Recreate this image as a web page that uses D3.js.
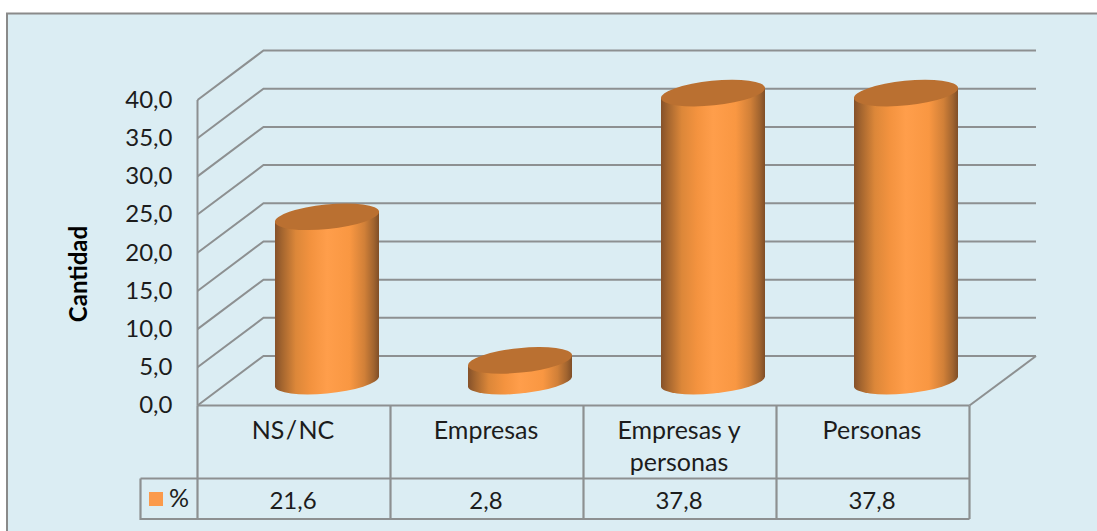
<!DOCTYPE html>
<html><head><meta charset="utf-8">
<script src="https://cdn.jsdelivr.net/npm/d3@7"></script>
<style>html,body{margin:0;padding:0;background:#fff;overflow:hidden}svg{display:block}text{font-family:Lato,"Open Sans",sans-serif;fill:#1c1c1c}</style>
</head><body><svg id="c" width="1097" height="531"></svg>
<script>
const categories = [["NS / NC"],["Empresas"],["Empresas y","personas"],["Personas"]];
const values = [21.6,2.8,37.8,37.8];
const valueLabels = ["21,6","2,8","37,8","37,8"];
const yTicks = [0,5,10,15,20,25,30,35,40];
const seriesName = "%";
const axisTitle = "Cantidad";

const svg = d3.select("#c");
const grid = "#8d9091", bg = "#dbedf3";
const x0 = 197.5, x1 = 969.5, yBase = 405.5, yTop = 100, dx = 66, dy = 49.5;
const x = d3.scaleBand().domain(d3.range(categories.length)).range([x0,x1]);
const y = d3.scaleLinear().domain([0,40]).range([yBase,yTop]);

svg.append("rect").attr("x",7).attr("y",13.5).attr("width",1200).attr("height",700)
  .attr("fill",bg).attr("stroke","#8a8a8a").attr("stroke-width",2);

const defs = svg.append("defs");
const g = defs.append("linearGradient").attr("id","cyl").attr("x1","0").attr("x2","1").attr("y1","0").attr("y2","0");
[[0,"#85512a"],[0.07,"#a5662f"],[0.2,"#dc8739"],[0.35,"#f4933f"],[0.5,"#ff9e4b"],[0.72,"#f99742"],[0.86,"#d18038"],[0.95,"#a1642f"],[1,"#7f4e27"]]
  .forEach(([o,c])=>g.append("stop").attr("offset",o).attr("stop-color",c));

// walls and gridlines
const wall = svg.append("g").attr("fill","none").attr("stroke",grid).attr("stroke-width",2);
yTicks.forEach(t=>{
  wall.append("path").attr("d",d3.line()([[x0,y(t)],[x0+dx,y(t)-dy],[1036,y(t)-dy]]));
});
wall.append("path").attr("d",d3.line()([[1036,y(0)-dy],[x1,y(0)]]));
wall.append("path").attr("d",d3.line()([[x0,y(40)],[x0,y(0)]]));

// cylinders
const a = 52.3, b = 12.3, rot = -5.8, hw = 52, tang = 5;
const cyl = svg.append("g");
values.forEach((v,i)=>{
  const cx = x(i)+x.bandwidth()/2+dx/2;
  const top = y(v)-dy/2+1, bot = y(0)-dy/2+1;
  const pts = `M${cx-hw},${top+tang}L${cx-hw},${bot+tang}A${a},${b} ${rot} 0 0 ${cx+hw},${bot-tang}L${cx+hw},${top-tang}Z`;
  cyl.append("path").attr("d",pts).attr("fill","url(#cyl)");
  cyl.append("ellipse").attr("cx",0).attr("cy",0).attr("rx",a).attr("ry",b)
    .attr("transform",`translate(${cx},${top}) rotate(${rot})`).attr("fill","#ba7031");
});

// y labels
svg.append("g").selectAll("text").data(yTicks).join("text")
  .attr("x",172.5).attr("y",d=>y(d)-0.5).attr("dy","0.35em").attr("text-anchor","end")
  .attr("font-size",24).text(d=>d3.format(".1f")(d).replace(".",","));

svg.append("text").attr("transform","translate(87,274) rotate(-90)").attr("text-anchor","middle")
  .attr("font-size",24).attr("font-weight",700).style("fill","#000").text(axisTitle);

// table
const rowMid = 478.5, rowBot = 519, tLeft = 140.5;
const t = svg.append("g").attr("fill","none").attr("stroke",grid).attr("stroke-width",2.2);
t.append("path").attr("d",d3.line()([[x0,yBase],[x1,yBase]]));
t.append("path").attr("d",d3.line()([[tLeft,rowMid],[x1,rowMid]]));
t.append("path").attr("d",d3.line()([[tLeft,rowMid],[tLeft,rowBot],[x1,rowBot]]));
d3.range(categories.length+1).forEach(i=>{
  const xx = i<categories.length ? x(i) : x1;
  t.append("path").attr("d",d3.line()([[xx,yBase],[xx,rowBot]]));
});

categories.forEach((lines,i)=>{
  const cx = x(i)+x.bandwidth()/2;
  lines.forEach((s,j)=>svg.append("text").attr("x",cx-1).attr("y",439+j*32)
    .attr("text-anchor","middle").attr("font-size",25).style("word-spacing",i===0?"-5px":null).text(s));
  svg.append("text").attr("x",cx-1).attr("y",509).attr("text-anchor","middle")
    .attr("font-size",24).text(valueLabels[i]);
});
svg.append("rect").attr("x",149).attr("y",492).attr("width",14).attr("height",14).attr("fill","#fb9a4b");
svg.append("text").attr("x",169).attr("y",507).attr("font-size",25).text(seriesName);
</script></body></html>
